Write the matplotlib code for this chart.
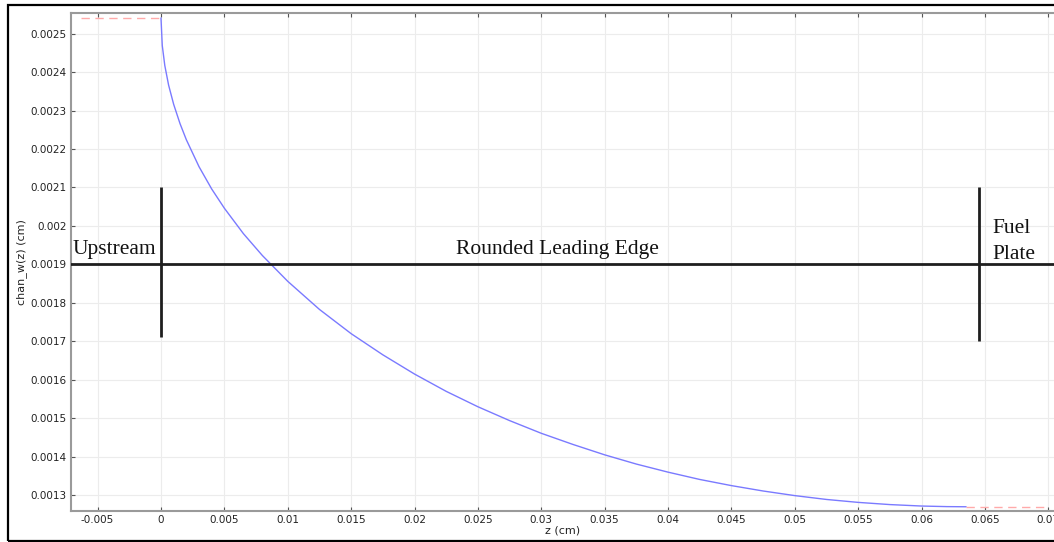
import matplotlib
matplotlib.use("Agg")
import matplotlib.pyplot as plt
from matplotlib.ticker import MultipleLocator, FuncFormatter
from matplotlib.patches import Rectangle

# ---- data ----
z_edge = [0.0, 0.0001, 0.0003, 0.0006, 0.001, 0.0015, 0.002, 0.003, 0.004,
          0.005, 0.0065, 0.008, 0.01, 0.0125, 0.015, 0.0175, 0.02, 0.0225,
          0.025, 0.0275, 0.03, 0.0325, 0.035, 0.0375, 0.04, 0.0425, 0.045,
          0.0475, 0.05, 0.0525, 0.055, 0.0575, 0.06, 0.062, 0.0635]
w_edge = [0.00254, 0.002469, 0.002417, 0.002366, 0.002316, 0.002266, 0.002224,
          0.002154, 0.002096, 0.002046, 0.001980, 0.001923, 0.001856, 0.001783,
          0.001720, 0.001665, 0.001615, 0.001570, 0.001530, 0.001494, 0.001461,
          0.001432, 0.001405, 0.001381, 0.001360, 0.001341, 0.001325, 0.001311,
          0.001299, 0.001289, 0.0012814, 0.0012757, 0.0012719, 0.0012704, 0.00127]
z_upstream = [-0.00635, 0.0]
w_upstream = [0.00254, 0.00254]
z_plate = [0.0635, 0.0699]
w_plate = [0.00127, 0.00127]

divider_w = 0.0019
marker_z = [0.0, 0.0645]
marker_lo = [0.00171, 0.0017]
marker_hi = [0.0021, 0.0021]
region_labels = ["Upstream", "Rounded Leading Edge", "Fuel", "Plate"]

W, H = 1054, 542
fig = plt.figure(figsize=(W / 100, H / 100), dpi=100)
ax = fig.add_axes([71 / W, 1 - 511 / H, 1 - 71 / W, (511 - 13) / H])

ax.plot(z_edge, w_edge, color="#7a7aff", lw=1.0, zorder=3)
ax.plot(z_upstream, w_upstream, color="#ffaaaa", lw=1.0, dashes=(6, 4), zorder=3)
ax.plot(z_plate, w_plate, color="#ffaaaa", lw=1.0, dashes=(6, 4), zorder=3)

ax.set_xlim(-0.0071, 0.07045)
ax.set_ylim(0.001259, 0.0025535)

ax.axhline(divider_w, color="#1e1e1e", lw=2.0, zorder=4)
for zz, lo, hi in zip(marker_z, marker_lo, marker_hi):
    ax.plot([zz, zz], [lo, hi], color="#1e1e1e", lw=2.0, zorder=4,
            solid_capstyle="butt")

serif = "Liberation Serif"
yb = 0.001926
ax.text(-0.00694, yb, region_labels[0], family=serif, fontsize=15.5,
        ha="left", va="baseline", color="#111111", zorder=5)
ax.text(0.03128, yb, region_labels[1], family=serif, fontsize=15.5,
        ha="center", va="baseline", color="#111111", zorder=5)
ax.text(0.06562, 0.001982, region_labels[2], family=serif, fontsize=15.5,
        ha="left", va="baseline", color="#111111", zorder=5)
ax.text(0.06562, 0.001915, region_labels[3], family=serif, fontsize=15.5,
        ha="left", va="baseline", color="#111111", zorder=5)

ax.xaxis.set_major_locator(MultipleLocator(0.005))
ax.yaxis.set_major_locator(MultipleLocator(0.0001))
fmt = FuncFormatter(lambda v, p: "%g" % round(v, 6))
ax.xaxis.set_major_formatter(fmt)
ax.yaxis.set_major_formatter(fmt)
ax.grid(True, color="#ececec", lw=0.8, zorder=0)
ax.set_axisbelow(True)
ax.tick_params(axis="both", direction="in", length=3, width=0.8, color="#555555",
               labelsize=7.5, labelcolor="#222222", pad=3)
ax.tick_params(axis="x", top=True)
for side in ["left", "bottom", "top"]:
    ax.spines[side].set_color("#9a9a9a")
    ax.spines[side].set_linewidth(1.5)
ax.spines["right"].set_visible(False)

ax.set_xlabel("z (cm)", fontsize=8, color="#222222", labelpad=0)
ax.set_ylabel("chan_w(z) (cm)", fontsize=8, color="#222222", labelpad=3)

fig.patches.append(Rectangle((8 / W, 1 / H), 1.2, (541 - 5) / H,
                             transform=fig.transFigure, fill=False,
                             edgecolor="black", lw=1.6, clip_on=False))

fig.savefig("out.png", dpi=100)
